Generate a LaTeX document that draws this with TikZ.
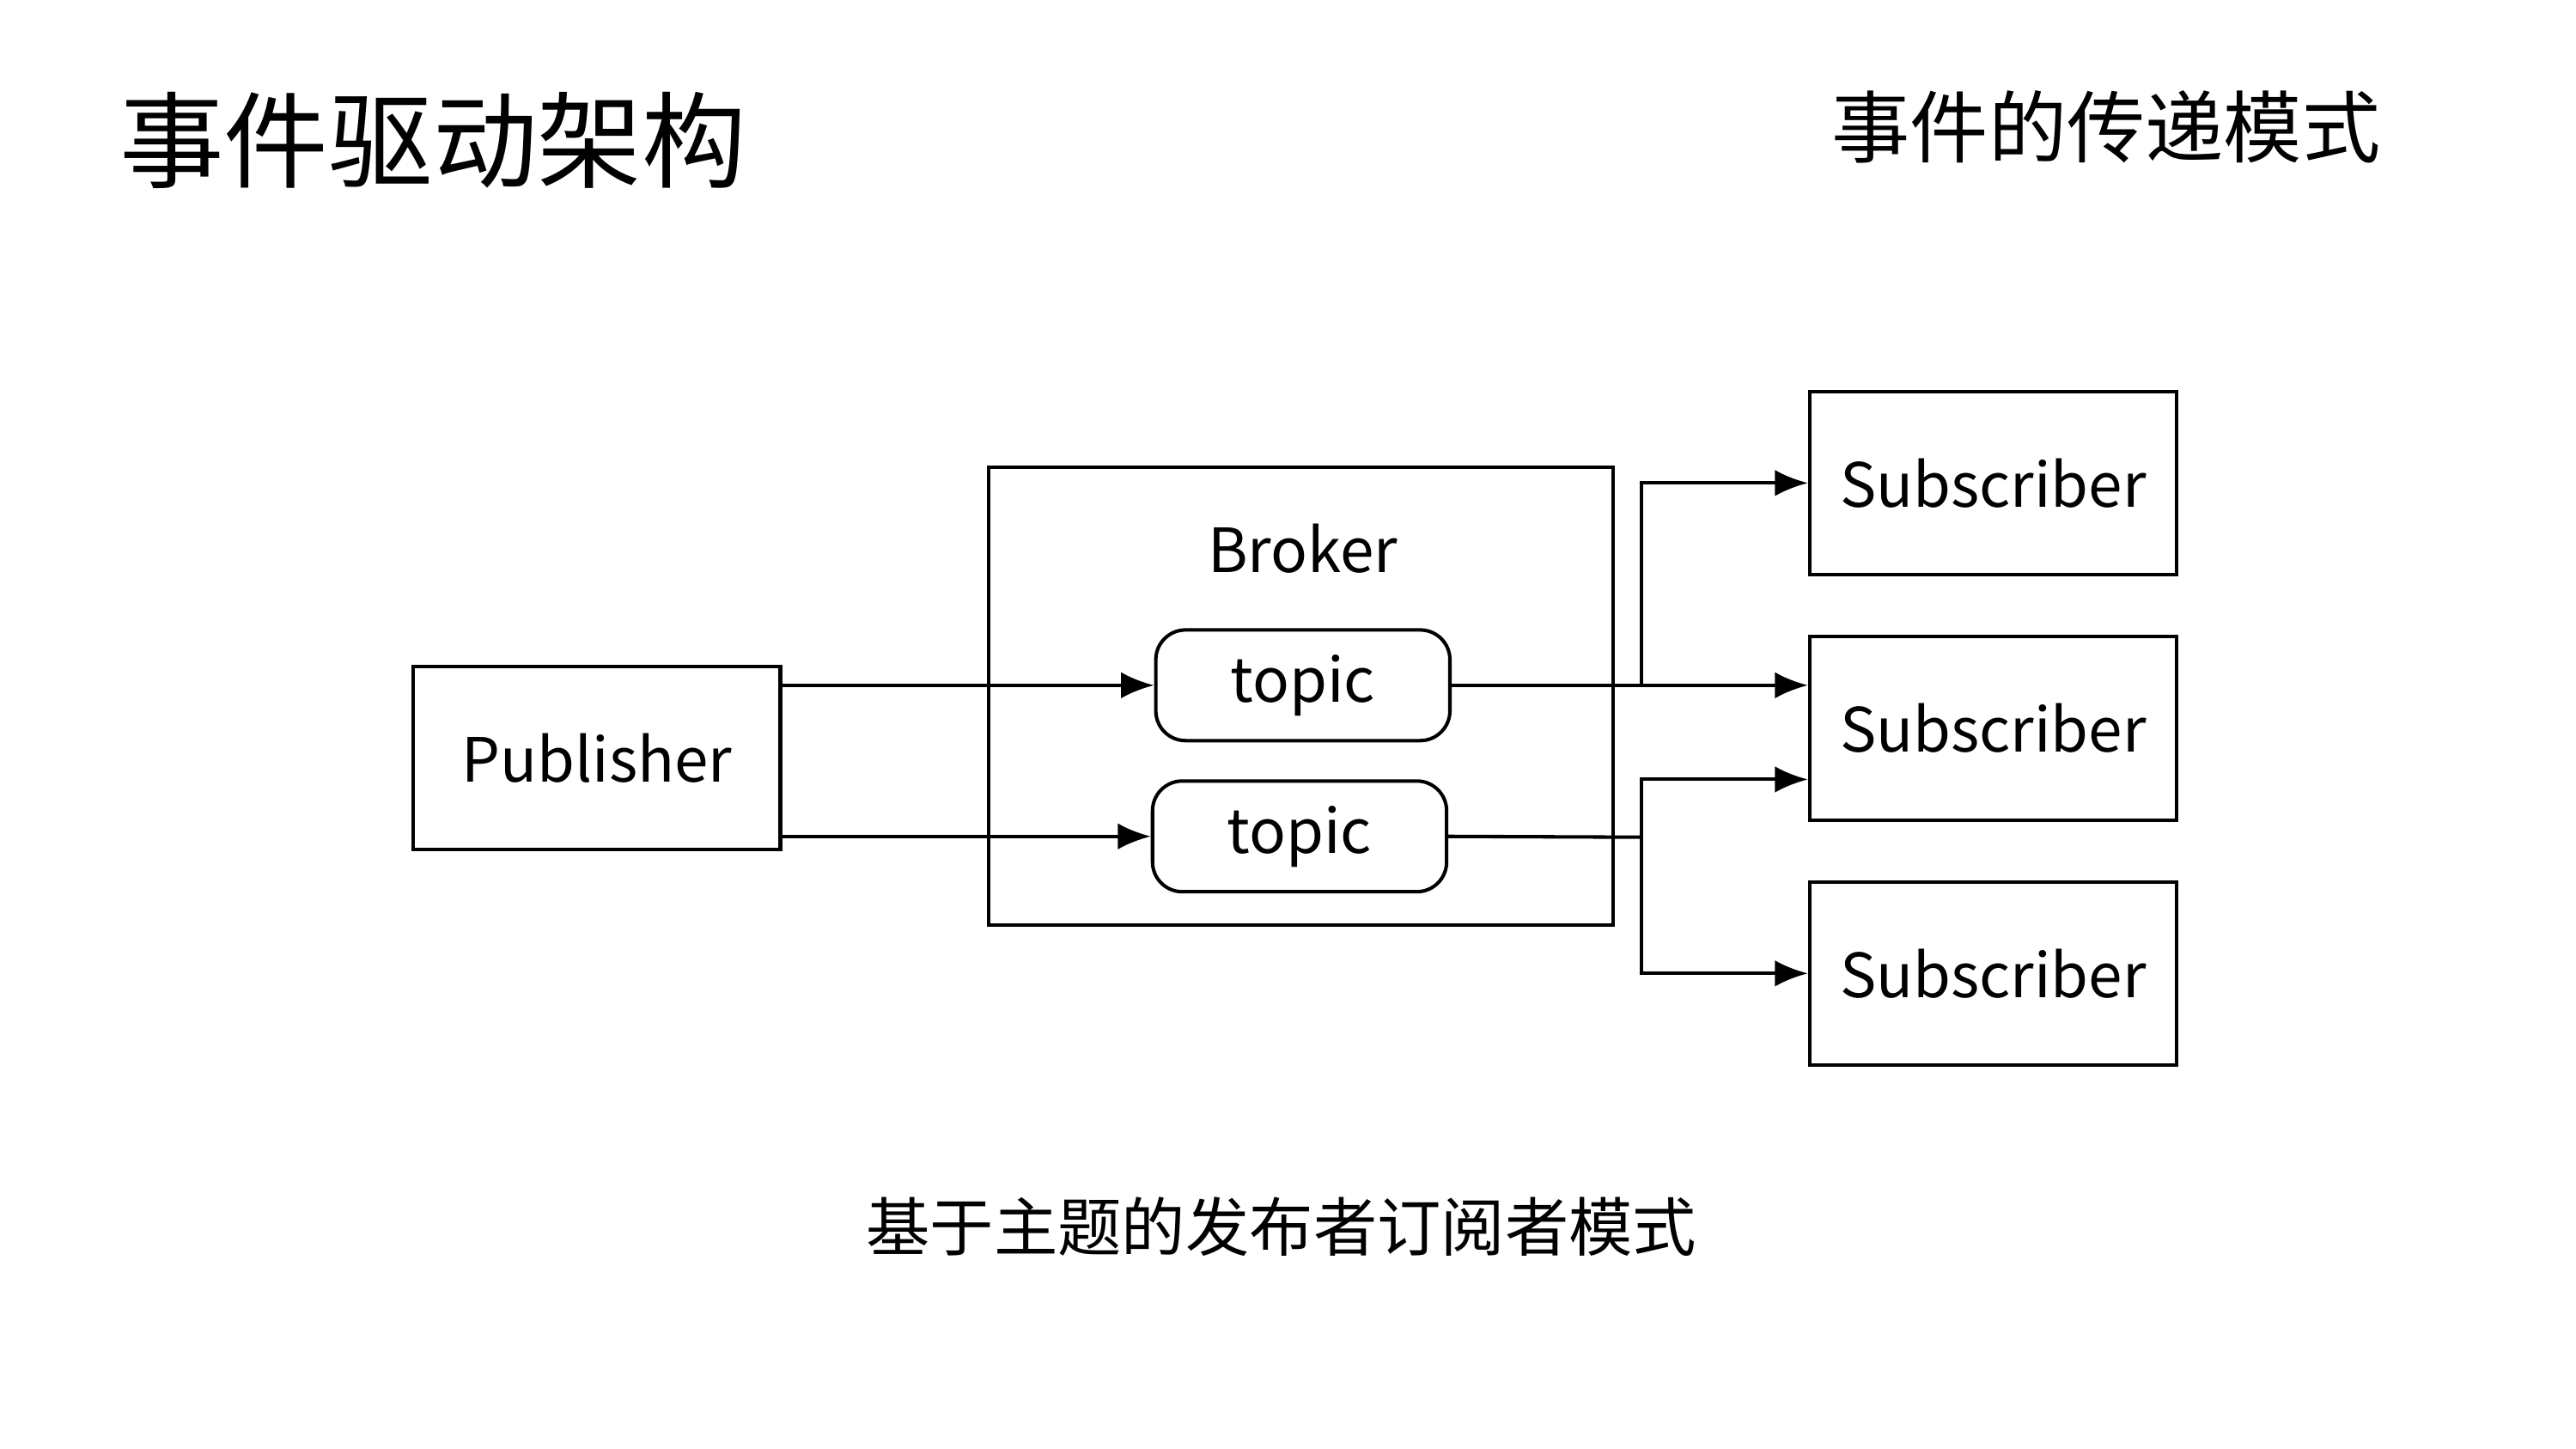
\documentclass[tikz,border=0pt]{standalone}
\usepackage{fontspec}
\setmainfont{Noto Sans CJK SC}
\usetikzlibrary{positioning,arrows.meta}

\begin{document}
\begin{tikzpicture}[
        x=0.01cm, y=-0.01cm,
        every node/.style={font=\fontsize{10.5pt}{12pt}\selectfont, align=center},
        box/.style={rectangle, draw=black, line width=0.6pt, minimum width=2.22cm, minimum height=1.11cm},
        topicbox/.style={rectangle, rounded corners=0.18cm, draw=black, line width=0.6pt, minimum width=1.78cm, minimum height=0.67cm},
        arrow/.style={-{Latex[length=2mm,width=1.6mm]}, line width=0.6pt},
        line/.style={line width=0.6pt}
    ]
    \useasboundingbox (0,0) rectangle (1560,877.5);

    % Titles
    \node[anchor=west, font=\fontsize{18pt}{20pt}\selectfont] (title) at (60,85) {事件驱动架构};
    \node[anchor=east, font=\fontsize{13.5pt}{15pt}\selectfont] (mode) at (1454,77) {事件的传递模式};
    \node[font=\fontsize{11pt}{13pt}\selectfont] (caption) at (776,743) {基于主题的发布者订阅者模式};

    % Nodes
    \node[box] (pub) at (361.5,459) {Publisher};
    \node[box, minimum width=3.78cm, minimum height=2.77cm] (broker) at (788,421.5) {};
    \node (brokerlabel) at (789,332) {Broker};
    \node[topicbox] (t1) at (789,415) {topic};
    \node[topicbox] (t2) at (787,506.5) {topic};
    \node[box] (sub1) at (1207,292.5) {Subscriber};
    \node[box] (sub2) at (1207,441) {Subscriber};
    \node[box] (sub3) at (1207,589.5) {Subscriber};

    % Junctions
    \coordinate (j1) at (994,415);
    \coordinate (j2) at (994,507);
    \coordinate (s2b) at ([yshift=-0.31cm]sub2.west);

    % Arrows
    \draw[arrow] (pub.east |- t1.west) -- (t1.west);
    \draw[arrow] (pub.east |- t2.west) -- (t2.west);
    \draw[arrow] (t1.east) -- (sub2.west |- t1.east);
    \draw[arrow] (j1) |- (sub1.west);
    \draw[line] (t2.east) -- (j2);
    \draw[arrow] (j2) |- (s2b);
    \draw[arrow] (j2) |- (sub3.west);

\end{tikzpicture}
\end{document}
